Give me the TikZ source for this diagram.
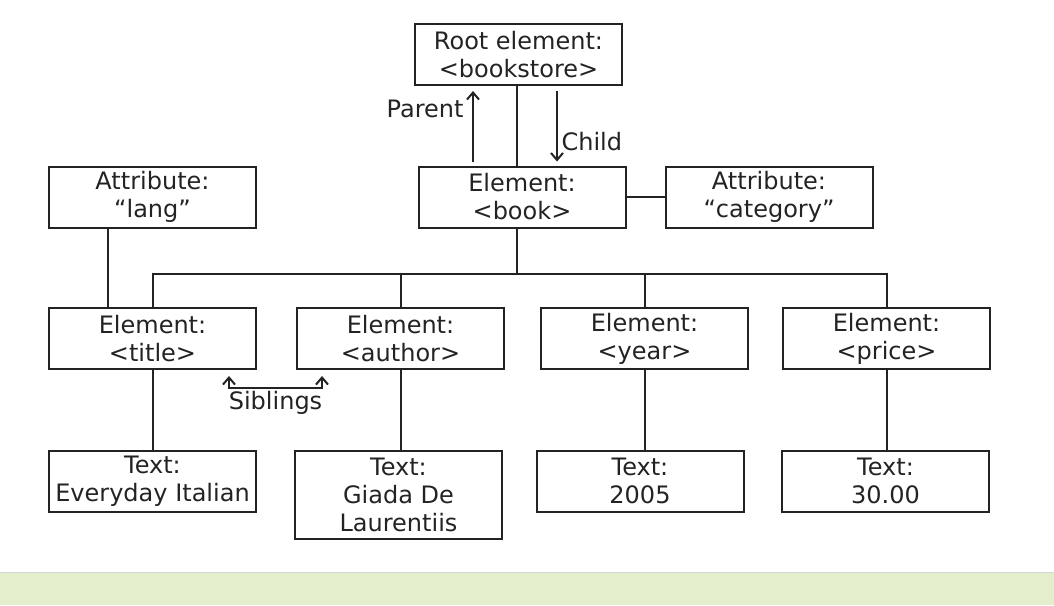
\documentclass[tikz,border=0pt]{standalone}
\usepackage{fontspec}
\setmainfont{DejaVu Sans}
\usetikzlibrary{arrows.meta,calc,positioning}
\definecolor{BandGreen}{RGB}{229,238,204}
\definecolor{BandLine}{RGB}{212,212,212}
\definecolor{InkGray}{RGB}{35,35,35}

\begin{document}
\begin{tikzpicture}[x=1pt,y=-1pt,
  font=\fontsize{24}{28}\selectfont,
  box/.style={draw=InkGray,line width=2pt,minimum width=207pt,minimum height=61pt,inner sep=0pt,align=center,text=InkGray},
  link/.style={draw=InkGray,line width=2pt},
  arr/.style={link,-{Straight Barb[length=7pt,width=12pt]}}]
  \useasboundingbox (0,0) rectangle (1054,605);
  % band at the foot
  \fill[BandGreen] (0,573) rectangle (1054,605);
  \draw[BandLine,line width=1.5pt] (0,572.5) -- (1054,572.5);
  % boxes
  \node[box] (root) at (518.5,54.5) {Root element:\\<bookstore>};
  \node[box] (book) at (522,197) {Element:\\<book>};
  \node[box] (cat) at (769,197) {Attribute:\\“category”};
  \node[box] (lang) at (152.5,197) {Attribute:\\“lang”};
  \node[box] (title) at (152.5,338.5) {Element:\\<title>};
  \node[box] (author) at (400.5,338.5) {Element:\\<author>};
  \node[box] (year) at (644.5,338.5) {Element:\\<year>};
  \node[box] (price) at (886.5,338.5) {Element:\\<price>};
  \node[box] (ttitle) at (152.5,481) {Text:\\Everyday Italian};
  \node[box,minimum height=88pt] (tauthor) at (398.5,495) {Text:\\Giada De\\Laurentiis};
  \node[box] (tyear) at (640,481) {Text:\\2005};
  \node[box] (tprice) at (885.5,481) {Text:\\30.00};
  % tree lines
  \draw[link] ([xshift=-1.5pt]root.south) -- ([xshift=-1.5pt]root.south |- book.north);
  \draw[link] (book.east) -- (cat.west);
  \draw[link] ([xshift=-5pt]book.south) -- ++(0,45) coordinate (hub);
  \draw[link] (title.north) |- (hub) -| (price.north);
  \draw[link] (author.north) -- (author.north |- hub);
  \draw[link] (year.north) -- (year.north |- hub);
  \draw[link] ([xshift=-45pt]lang.south) -- ([xshift=-45pt]lang.south |- title.north);
  \foreach \e/\t in {title/ttitle,author/tauthor,year/tyear,price/tprice}
    \draw[link] (\e.south) -- (\e.south |- \t.north);
  % parent and child
  \draw[arr] ([xshift=-49pt,yshift=4pt]book.north) -- ([xshift=-45.5pt,yshift=-5pt]root.south) coordinate (parenttip);
  \node[left,text=InkGray] (parent) at ([xshift=-6pt,yshift=-18pt]parenttip) {Parent};
  \draw[arr] ([xshift=38.5pt,yshift=-5pt]root.south) -- ([xshift=35pt,yshift=4pt]book.north) coordinate (childtip);
  \node[right,text=InkGray] (child) at ([xshift=1pt,yshift=20pt]childtip) {Child};
  % siblings
  \coordinate (sibA) at ([xshift=-28pt,yshift=-6pt]title.south east);
  \coordinate (sibB) at ([xshift=26pt,yshift=-6pt]author.south west);
  \draw[link,{Straight Barb[length=7pt,width=12pt]}-{Straight Barb[length=7pt,width=12pt]}]
    (sibA) -- ++(0,12) -| (sibB);
  \node[text=InkGray] (sib) at ($(sibA)!0.5!(sibB)+(0,27)$) {Siblings};
\end{tikzpicture}
\end{document}
